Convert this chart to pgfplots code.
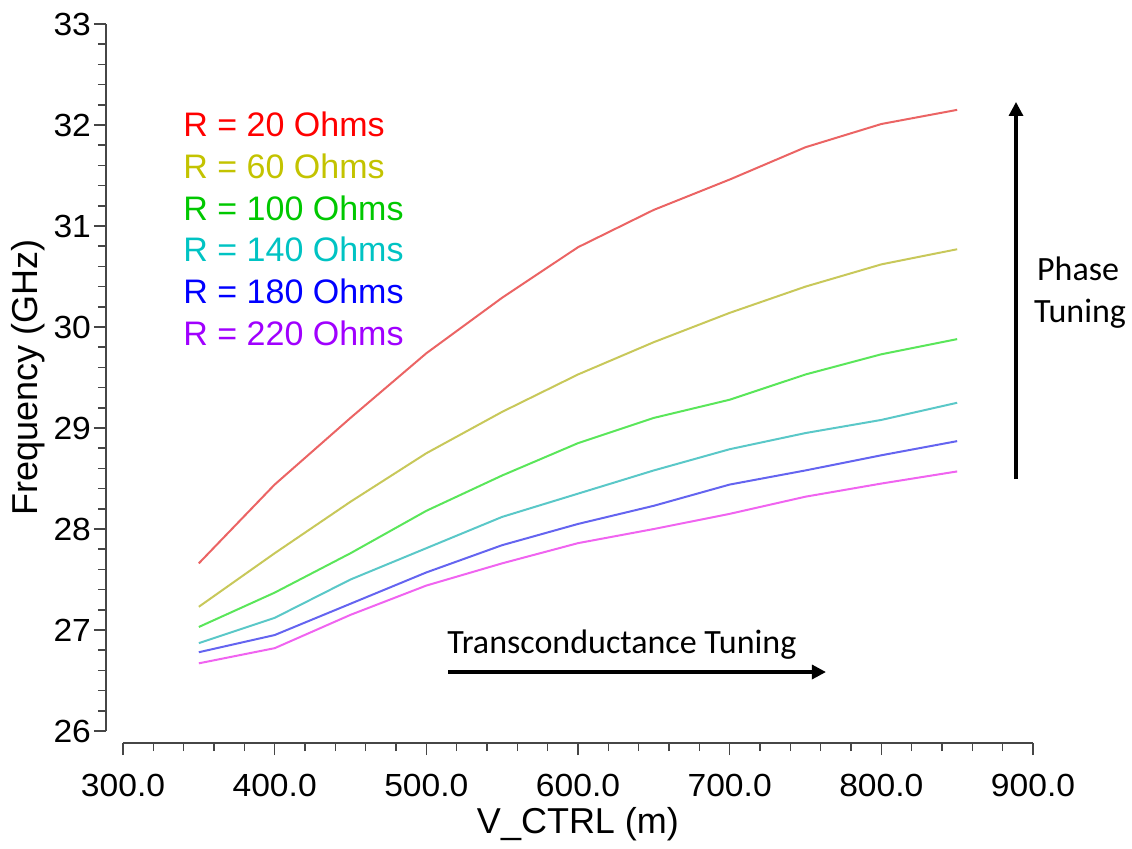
\documentclass[border=0pt]{standalone}
\usepackage{fontspec}
\setmainfont{Liberation Sans}
\newfontfamily\calibri{Carlito}
\newfontfamily\tickfont[FakeStretch=1.05]{Liberation Sans}
\usepackage{pgfplots}
\pgfplotsset{compat=1.18}
\usepackage{pgfplotstable}
\usetikzlibrary{arrows.meta}

\definecolor{lred}{RGB}{235,100,100}
\definecolor{lyel}{RGB}{200,200,90}
\definecolor{lgrn}{RGB}{90,230,90}
\definecolor{lcyn}{RGB}{90,200,200}
\definecolor{lblu}{RGB}{100,100,240}
\definecolor{lmag}{RGB}{240,100,240}
\definecolor{tyel}{RGB}{195,195,0}
\definecolor{tgrn}{RGB}{0,200,0}
\definecolor{tcyn}{RGB}{0,195,195}
\definecolor{tpur}{RGB}{160,0,255}
\definecolor{axgray}{RGB}{70,70,70}

% V_CTRL (mV) vs oscillation frequency (GHz) for each R
\pgfplotstableread{
v    r20   r60   r100  r140  r180  r220
350  27.66 27.23 27.03 26.87 26.78 26.67
400  28.44 27.76 27.37 27.12 26.95 26.82
450  29.10 28.27 27.76 27.50 27.26 27.15
500  29.74 28.75 28.18 27.81 27.57 27.44
550  30.29 29.16 28.53 28.12 27.84 27.66
600  30.79 29.53 28.85 28.35 28.05 27.86
650  31.16 29.85 29.10 28.58 28.23 28.00
700  31.46 30.14 29.28 28.79 28.44 28.15
750  31.78 30.40 29.53 28.95 28.58 28.32
800  32.01 30.62 29.73 29.08 28.73 28.45
850  32.15 30.77 29.88 29.25 28.87 28.57
}\freqdata

\begin{document}
\begin{tikzpicture}
\begin{axis}[
  at={(0,0)}, anchor=south west,
  scale only axis,
  width=455pt, height=353.5pt,
  xmin=300, xmax=900, ymin=26, ymax=33,
  clip=false,
  axis x line=bottom, axis y line=left,
  axis x line shift=6pt, axis y line shift=8.5pt,
  axis line style={-, axgray, line width=1pt},
  tick align=outside,
  major tick length=6pt, minor tick length=4pt,
  every tick/.style={axgray, line width=0.8pt},
  xtick={300,400,...,900}, ytick={26,27,...,33},
  minor x tick num=4, minor y tick num=4,
  /pgf/number format/assume math mode=true,
  xticklabel style={font=\tickfont\fontsize{16}{19}\selectfont, yshift=-6pt, /pgf/number format/.cd, fixed, fixed zerofill, precision=1},
  yticklabel style={font=\tickfont\fontsize{16}{19}\selectfont, xshift=2pt},
  xlabel={V\_CTRL (m)}, ylabel={Frequency (GHz)},
  label style={font=\fontsize{18}{21}\selectfont},
  xlabel style={at={(axis description cs:0.5,-0.1443)}, anchor=base},
  ylabel style={at={(axis description cs:-0.1044,0.5)}, anchor=center},
]
\addplot[lred, line width=1pt] table[x=v, y=r20] {\freqdata};
\addplot[lyel, line width=1pt] table[x=v, y=r60] {\freqdata};
\addplot[lgrn, line width=1pt] table[x=v, y=r100] {\freqdata};
\addplot[lcyn, line width=1pt] table[x=v, y=r140] {\freqdata};
\addplot[lblu, line width=1pt] table[x=v, y=r180] {\freqdata};
\addplot[lmag, line width=1pt] table[x=v, y=r220] {\freqdata};

\begin{scope}[every node/.style={anchor=base west, inner sep=0pt, font=\fontsize{17}{20}\selectfont}]
\node[red]  at (axis cs:339.6,31.891) {R = 20 Ohms};
\node[tyel] at (axis cs:339.6,31.475) {R = 60 Ohms};
\node[tgrn] at (axis cs:339.6,31.059) {R = 100 Ohms};
\node[tcyn] at (axis cs:339.6,30.644) {R = 140 Ohms};
\node[blue] at (axis cs:339.6,30.228) {R = 180 Ohms};
\node[tpur] at (axis cs:339.6,29.812) {R = 220 Ohms};
\end{scope}

\draw[line width=1.6pt, -{Triangle[length=7pt,width=7pt]}] (axis cs:514.3,26.584) -- (axis cs:763.5,26.584);
\node[anchor=base west, inner sep=0pt, font=\calibri\fontsize{17}{20}\selectfont] at (axis cs:513.6,26.77) {Transconductance Tuning};
\draw[line width=1.6pt, -{Triangle[length=7pt,width=7pt]}] (axis cs:888.8,28.495) -- (axis cs:888.8,32.228);
\node[anchor=base, inner sep=0pt, font=\calibri\fontsize{17}{20}\selectfont] at (axis cs:929.7,30.465) {Phase};
\node[anchor=base, inner sep=0pt, font=\calibri\fontsize{17}{20}\selectfont] at (axis cs:931.0,30.040) {Tuning};
\end{axis}
\pgfresetboundingbox
\path[use as bounding box] (-61.5pt,-58.5pt) rectangle (504.5pt,365.5pt);
\end{tikzpicture}
\end{document}
